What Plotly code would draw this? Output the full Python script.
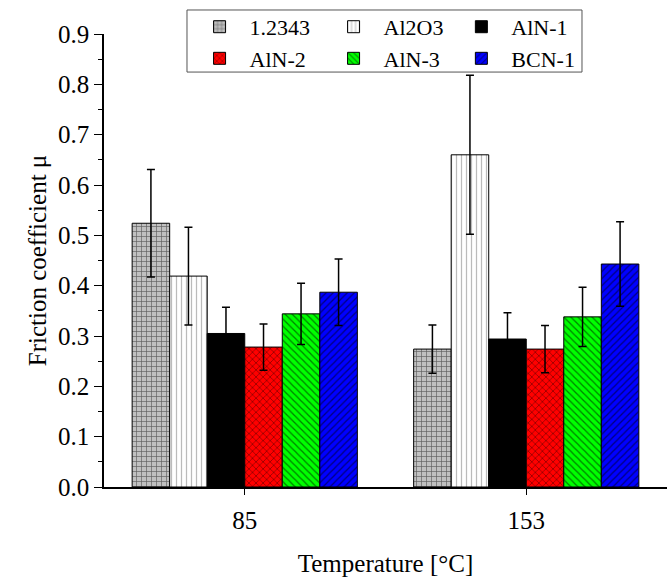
import plotly.graph_objects as go

temperatures = ["85", "153"]
series_names = ["1.2343", "Al2O3", "AlN-1", "AlN-2", "AlN-3", "BCN-1"]
mean_85 = [0.524, 0.419, 0.305, 0.278, 0.344, 0.387]
mean_153 = [0.274, 0.660, 0.294, 0.274, 0.338, 0.443]
err_85 = [0.107, 0.097, 0.052, 0.046, 0.061, 0.066]
err_153 = [0.048, 0.158, 0.052, 0.047, 0.059, 0.084]

fill_colors = ["#c0c0c0", "#ffffff", "#000000", "#ff0000", "#00ff00", "#0000ff"]
pattern_shapes = ["+", "|", "", "x", "\\", "/"]
pattern_fg = ["#000000", "#777777", "#000000", "#000000", "#000000", "#000000"]
legend_columns = ["legend", "legend2", "legend3", "legend", "legend2", "legend3"]

FONT = "Liberation Serif"

fig = go.Figure()
for i, name in enumerate(series_names):
    fig.add_trace(go.Bar(
        name=name,
        x=temperatures,
        y=[mean_85[i], mean_153[i]],
        legend=legend_columns[i],
        error_y=dict(type="data", array=[err_85[i], err_153[i]],
                     color="#000000", thickness=1.5, width=4),
        marker=dict(
            color=fill_colors[i],
            line=dict(color="#000000", width=1),
            pattern=dict(shape=pattern_shapes[i], fillmode="overlay",
                         fgcolor=pattern_fg[i], size=5, solidity=0.25),
        ),
    ))

def legend_col(xpos):
    return dict(
        orientation="v",
        x=xpos, y=1.062, xanchor="left", yanchor="top",
        bgcolor="rgba(0,0,0,0)", borderwidth=0,
        font=dict(family=FONT, size=22, color="#000000"),
        itemwidth=50, tracegroupgap=0,
    )

fig.update_layout(
    barmode="group",
    bargap=0.2,
    bargroupgap=0,
    width=668,
    height=579,
    margin=dict(l=104, r=1, t=34, b=92),
    paper_bgcolor="white",
    plot_bgcolor="white",
    font=dict(family=FONT, size=25, color="#000000"),
    legend=legend_col(0.152),
    legend2=legend_col(0.390),
    legend3=legend_col(0.617),
    shapes=[dict(
        type="rect", xref="paper", yref="paper",
        x0=0.1474, x1=0.849, y0=0.916, y1=1.053,
        line=dict(color="#555555", width=1), fillcolor="white", layer="above",
    )],
    xaxis=dict(
        type="category",
        range=[-0.5, 1.5],
        showline=True, linecolor="#000000", linewidth=1.5,
        ticks="outside", ticklen=6, tickcolor="#000000",
        ticklabelstandoff=4,
        showgrid=False, zeroline=False,
        title=dict(text="Temperature [°C]", font=dict(family=FONT, size=25), standoff=22),
        tickfont=dict(family=FONT, size=25),
    ),
    yaxis=dict(
        range=[0, 0.9],
        dtick=0.1, tickformat=".1f",
        showline=True, linecolor="#000000", linewidth=1.5,
        ticks="outside", ticklen=8, tickcolor="#000000",
        minor=dict(dtick=0.05, ticks="outside", ticklen=4, tickcolor="#000000"),
        showgrid=False, zeroline=False,
        title=dict(text="Friction coefficient μ", font=dict(family=FONT, size=25), standoff=4),
        tickfont=dict(family=FONT, size=25),
    ),
)

fig.write_html("out.html", config={"displayModeBar": False},
               post_script="document.body.style.margin='0';")
